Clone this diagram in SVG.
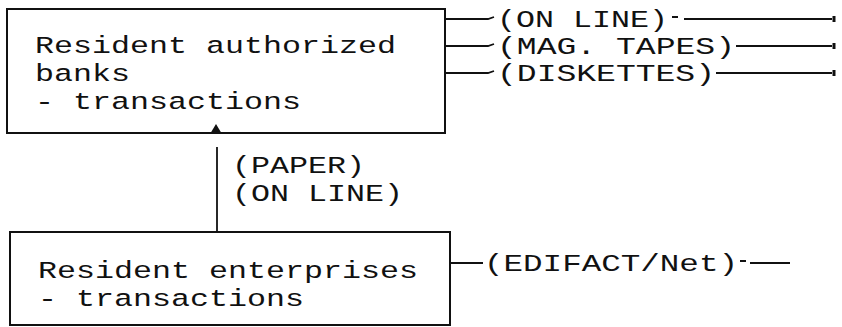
<svg xmlns="http://www.w3.org/2000/svg" width="842" height="327" viewBox="0 0 842 327">
<style>
text{font-family:"Liberation Mono","Courier New",monospace;font-size:24.5px;fill:#111;}
.box{fill:none;stroke:#111;stroke-width:2;}
.ln{fill:none;stroke:#111;stroke-width:1.8;}
</style>
<rect width="842" height="327" fill="#fff"/>
<g id="banks">
<rect class="box" x="7" y="9" width="438" height="124"/>
<text x="35" y="53" textLength="361" lengthAdjust="spacingAndGlyphs">Resident authorized</text>
<text x="35" y="81" textLength="95" lengthAdjust="spacingAndGlyphs">banks</text>
<text x="35" y="109" textLength="266" lengthAdjust="spacingAndGlyphs">- transactions</text>
</g>
<g id="enterprises">
<rect class="box" x="10" y="232" width="440" height="93"/>
<text x="38" y="278" textLength="380" lengthAdjust="spacingAndGlyphs">Resident enterprises</text>
<text x="38" y="306" textLength="266" lengthAdjust="spacingAndGlyphs">- transactions</text>
</g>
<g id="connectors">
<line class="ln" x1="217" y1="232" x2="217" y2="147"/>
<polygon points="216,124 210,134 222,134" fill="#111"/>
<path class="ln" d="M445,19 H488 L494,17"/>
<path class="ln" d="M445,46 H488 L494,44"/>
<path class="ln" d="M445,73 H488 L494,71"/>
<path class="ln" d="M672,17 H678 M684,19 H832"/>
<path class="ln" d="M736,46 H832"/>
<path class="ln" d="M716,73 H832"/>
<line x1="834" y1="16" x2="834" y2="22" stroke="#111" stroke-width="3"/>
<line x1="834" y1="43" x2="834" y2="49" stroke="#111" stroke-width="3"/>
<line x1="834" y1="70" x2="834" y2="76" stroke="#111" stroke-width="3"/>
<path class="ln" d="M450,263 H483"/>
<path class="ln" d="M740,261 H746 M750,263 H790"/>
</g>
<g id="labels">
<text x="497" y="27" textLength="171" lengthAdjust="spacingAndGlyphs">(ON LINE)</text>
<text x="497" y="54" textLength="238" lengthAdjust="spacingAndGlyphs">(MAG. TAPES)</text>
<text x="497" y="81" textLength="218" lengthAdjust="spacingAndGlyphs">(DISKETTES)</text>
<text x="232" y="173" textLength="133" lengthAdjust="spacingAndGlyphs">(PAPER)</text>
<text x="232" y="201" textLength="171" lengthAdjust="spacingAndGlyphs">(ON LINE)</text>
<text x="484" y="271" textLength="254" lengthAdjust="spacingAndGlyphs">(EDIFACT/Net)</text>
</g>
</svg>
